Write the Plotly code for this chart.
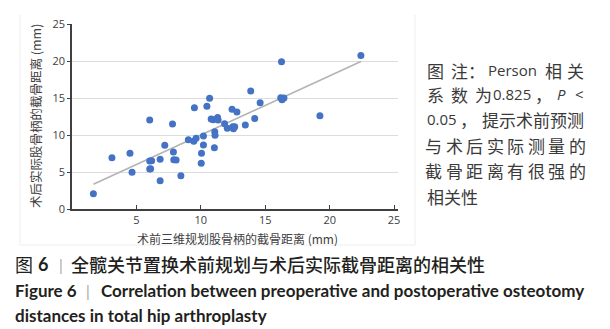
import numpy as np
import plotly.graph_objects as go

# ---- data ----
planned = [1.66, 3.1, 4.5, 4.66, 6.03, 6.03, 6.18, 6.03, 6.1, 6.84, 6.84, 7.2, 7.8, 7.87, 7.9,
           8.08, 8.45, 9.03, 9.45, 9.5, 9.63, 10.05, 10.03, 10.2, 10.2, 10.47, 10.68, 10.8,
           10.95, 11.08, 11.1, 11.05, 11.3, 11.34, 11.84, 12.05, 12.42, 12.47, 12.53, 12.63,
           12.8, 13.45, 13.87, 14.18, 14.6, 16.26, 16.2, 16.3, 16.45, 19.24, 22.42]
actual = [2.08, 6.95, 7.54, 4.96, 12.05, 6.5, 6.54, 5.42, 5.46, 6.72, 3.84, 8.62, 11.5, 7.72, 6.68,
          6.63, 4.51, 9.39, 9.16, 13.7, 9.57, 7.54, 6.18, 8.66, 9.88, 13.9, 14.98, 12.2,
          12.1, 10.47, 10.0, 8.3, 12.4, 12.05, 11.55, 10.92, 13.5, 11.15, 10.88, 11.15,
          13.13, 11.37, 15.97, 12.27, 14.4, 19.95, 15.07, 14.8, 15.03, 12.64, 20.8]
x_ticks = [5, 10, 15, 20, 25]
y_ticks = [0, 5, 10, 15, 20, 25]
x_title = "术前三维规划股骨柄的截骨距离 (mm)"
y_title = "术后实际股骨柄的截骨距离 (mm)"
caption_cn = "全髋关节置换术前规划与术后实际截骨距离的相关性"
caption_en_head = "Figure 6"
caption_en1 = "Correlation between preoperative and postoperative osteotomy"
caption_en2 = "distances in total hip arthroplasty"

# trend line (least squares)
slope, intercept = np.polyfit(planned, actual, 1)
tx = [min(planned), max(planned)]
ty = [slope * v + intercept for v in tx]

W, H = 610, 329
L, R, T, B = 72, 212, 24, 120
PW, PH = W - L - R, H - T - B


def px(x):
    return (x - L) / PW


def py(y):
    return (H - B - y) / PH


fig = go.Figure()
fig.add_trace(go.Scatter(x=tx, y=ty, mode="lines",
                         line=dict(color="#b3b3b3", width=1.5), hoverinfo="skip"))
fig.add_trace(go.Scatter(x=planned, y=actual, mode="markers",
                         marker=dict(color="#4472C4", size=7, line=dict(width=0))))

tickfont = dict(family="Open Sans", size=11, color="#404040")
fig.update_xaxes(range=[0, 25.3], tickvals=x_ticks, showgrid=False, zeroline=False,
                 showline=True, linecolor="#404040", linewidth=1.5,
                 ticks="inside", ticklen=4, tickcolor="#404040", tickwidth=1.2,
                 tickfont=tickfont)
fig.update_yaxes(range=[0, 25.05], tickvals=y_ticks, showgrid=True, gridcolor="#dcdcdc",
                 gridwidth=1, zeroline=False, showline=True, linecolor="#404040",
                 linewidth=1.5, ticks="outside", ticklen=3, tickcolor="#404040",
                 tickfont=tickfont)

ann = []
cjk = "Noto Sans CJK SC"
ann.append(dict(text=y_title, x=px(35), y=py(116), xref="paper", yref="paper",
                xanchor="center", yanchor="middle",
                textangle=-90, showarrow=False, font=dict(family=cjk, size=12.5, color="#404040")))
ann.append(dict(text=x_title, x=px(237), y=py(238), xref="paper", yref="paper",
                xanchor="center", yanchor="middle",
                showarrow=False, font=dict(family=cjk, size=12, color="#404040")))

note_font = dict(family=cjk, size=17, color="#3a3a3a")


def put(text, xl, yc, anchor="left", font=note_font):
    ann.append(dict(text=text, x=px(xl), y=py(yc), xref="paper", yref="paper",
                    xanchor=anchor, yanchor="middle", showarrow=False, font=font))


def justify(chars, x0, x1, yc, fs=17):
    n = len(chars)
    step = (x1 - x0 - fs) / (n - 1)
    for i, ch in enumerate(chars):
        ann.append(dict(text=ch, x=px(x0 + fs / 2 + i * step), y=py(yc), xref="paper",
                        yref="paper", xanchor="center", yanchor="middle", showarrow=False,
                        font=note_font))


lat = dict(family="Open Sans", size=15, color="#3a3a3a")
# line 1
put("图", 425, 70)
put("注", 449, 70)
put("：", 466, 70)
put("Person", 486, 70, font=lat)
put("相", 543, 70)
put("关", 586, 70, anchor="right")
# line 2
put("系", 425, 94)
put("数", 449, 94)
put("为", 473, 94)
put("0.825", 491, 94, font=lat)
put("，", 533, 94)
put("<i>P</i>", 555, 94, font=lat)
put("<", 586, 94, anchor="right", font=lat)
# line 3
put("0.05", 425, 119, font=lat)
put("，", 458, 119)
put("提示术前预测", 586, 119, anchor="right")
# lines 4-6
justify("与术后实际测量的", 425, 586, 145)
justify("截骨距离有很强的", 425, 586, 170)
put("相关性", 425, 196)

# captions
dark = "#231f20"
put("图", 13, 264, font=dict(family=cjk, size=18, color=dark))
put("<b>6</b>", 36, 264, font=dict(family="Lato", size=18, color=dark))
put("|", 57, 264, font=dict(family="Lato", size=16, color="#555555", weight=300))
put(caption_cn, 69, 264, font=dict(family=cjk, size=18, color=dark, weight=500))
enf = dict(family="Lato", size=17, color=dark)
put("<b>" + caption_en_head + "</b>", 13, 290, font=enf)
put("|", 84, 290, font=dict(family="Lato", size=16, color="#555555", weight=300))
put("<b>" + caption_en1 + "</b>", 99, 290, font=enf)
put("<b>" + caption_en2 + "</b>", 13, 315, font=enf)

shapes = [
    dict(type="line", xref="paper", yref="paper", x0=px(20), x1=px(20), y0=py(15), y1=py(245),
         line=dict(color="#eeeeee", width=1)),
    dict(type="line", xref="paper", yref="paper", x0=px(415), x1=px(415), y0=py(15), y1=py(245),
         line=dict(color="#eeeeee", width=1)),
    dict(type="line", xref="paper", yref="paper", x0=px(20), x1=px(415), y0=py(245), y1=py(245),
         line=dict(color="#eeeeee", width=1)),
]

fig.update_layout(width=W, height=H, margin=dict(l=L, r=R, t=T, b=B),
                  plot_bgcolor="white", paper_bgcolor="white", showlegend=False,
                  annotations=ann, shapes=shapes)
fig.write_html("out.html", config={"displayModeBar": False},
               post_script="document.body.style.margin='0';document.body.style.padding='0';")
